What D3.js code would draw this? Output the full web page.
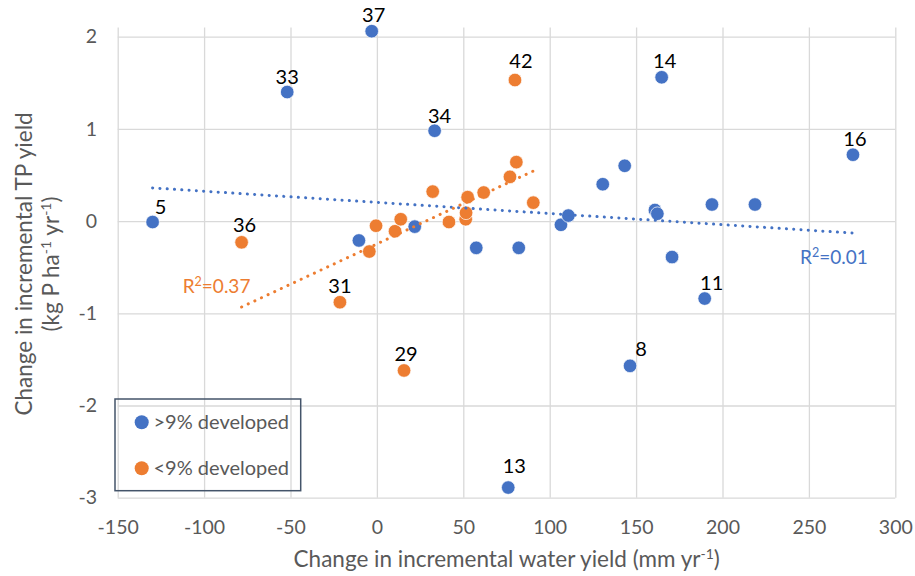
<!DOCTYPE html>
<html>
<head>
<meta charset="utf-8">
<script src="https://cdn.jsdelivr.net/npm/d3@7"></script>
<style>
  body { margin: 0; background: #fff; }
  text { font-family: Lato, "Open Sans", sans-serif; }
</style>
</head>
<body>
<div id="chart"></div>
<script>
// series: >9% developed (blue)
const devX = [-129.8, -51.9, -3.0, -10.4, 21.9, 33.4, 57.5, 82.1, 76.0, 106.5, 110.8,
              130.7, 143.4, 146.5, 160.9, 162.3, 164.8, 170.8, 189.7, 193.9, 218.8, 275.5];
const devY = [-0.01, 1.40, 2.06, -0.21, -0.06, 0.98, -0.29, -0.29, -2.89, -0.04, 0.06,
              0.40, 0.60, -1.57, 0.12, 0.08, 1.56, -0.39, -0.84, 0.18, 0.18, 0.72];
const devLab = ["5", "33", "37", "", "", "34", "", "", "13", "", "",
                "", "", "8", "", "", "14", "", "11", "", "", "16"];

// series: <9% developed (orange)
const undevX = [-78.3, -21.4, -4.4, -0.5, 10.5, 13.8, 15.7, 32.3, 41.7, 51.4, 51.6,
                52.5, 61.8, 77.0, 79.9, 80.7, 90.5];
const undevY = [-0.23, -0.88, -0.33, -0.05, -0.11, 0.02, -1.62, 0.32, -0.01, 0.02, 0.09,
                0.26, 0.31, 0.48, 1.53, 0.64, 0.20];
const undevLab = ["36", "31", "", "", "", "", "29", "", "", "", "",
                  "", "", "", "42", "", ""];

const xTicks = [-150, -100, -50, 0, 50, 100, 150, 200, 250, 300];
const yTicks = [-3, -2, -1, 0, 1, 2];
const r2Text = {dev: "0.01", undev: "0.37"};

// label nudges (px) so the point numbers sit where Excel put them
const nudge = {
  "37": [2, -9], "33": [0, -8.5], "34": [5, -8], "5": [8, -8.5], "36": [3, -10],
  "42": [6, -12], "14": [3, -9.5], "16": [2, -8.5], "11": [7, -9], "8": [11, -10],
  "13": [6, -14.5], "31": [0, -9.5], "29": [2, -9]
};

const width = 915, height = 576;
const blue = "#4472C4", orange = "#ED7D31", grid = "#D9D9D9", grey = "#595959";
const plain = d => String(d);  // Excel style: hyphen minus, no decimals

const svg = d3.select("#chart").append("svg")
    .attr("width", width).attr("height", height);

const x = d3.scaleLinear().domain([-150, 300]).range([117.7, 895.3]);
const y = d3.scaleLinear().domain([-3, 2.1]).range([497.7, 27.5]);

// gridlines
svg.append("g")
    .attr("transform", `translate(0,${y(-3)})`)
    .call(d3.axisBottom(x).tickValues(xTicks).tickSize(-(y(-3) - y(2.1))).tickFormat(""))
    .call(g => g.select(".domain").remove())
    .call(g => g.selectAll("line").attr("stroke", grid).attr("stroke-width", 1.3));
svg.append("g")
    .attr("transform", `translate(${x(-150)},0)`)
    .call(d3.axisLeft(y).tickValues(yTicks).tickSize(-(x(300) - x(-150))).tickFormat(""))
    .call(g => g.select(".domain").remove())
    .call(g => g.selectAll("line").attr("stroke", grid).attr("stroke-width", 1.3));

// tick labels
svg.append("g")
    .attr("transform", `translate(0,${y(-3)})`)
    .call(d3.axisBottom(x).tickValues(xTicks).tickFormat(plain).tickSize(0).tickPadding(22))
    .call(g => g.select(".domain").remove())
    .call(g => g.selectAll("text").attr("fill", grey).style("font-size", "19.5px")
        .style("font-family", "Lato"));
svg.append("g")
    .attr("transform", `translate(97,0)`)
    .call(d3.axisLeft(y).tickValues(yTicks).tickFormat(plain).tickSize(0).tickPadding(0))
    .call(g => g.select(".domain").remove())
    .call(g => g.selectAll("text").attr("fill", grey).style("font-size", "19.5px")
        .style("font-family", "Lato"));

// axis titles
const xt = svg.append("text")
    .attr("x", 506.7).attr("y", 567)
    .attr("text-anchor", "middle").attr("fill", grey).style("font-size", "22.5px");
xt.append("tspan").text("Change in incremental water yield (mm yr");
xt.append("tspan").attr("dy", -8).style("font-size", "14px").text("-1");
xt.append("tspan").attr("dy", 8).text(")");

const yt = svg.append("g").attr("transform", "translate(31.5,264) rotate(-90)");
yt.append("text").attr("text-anchor", "middle").attr("fill", grey)
    .style("font-size", "22.5px").text("Change in incremental TP yield");
const yt2 = yt.append("text").attr("y", 27.8).attr("text-anchor", "middle")
    .attr("fill", grey).style("font-size", "22.5px");
yt2.append("tspan").text("(kg P ha");
yt2.append("tspan").attr("dy", -8).style("font-size", "14px").text("-1");
yt2.append("tspan").attr("dy", 8).text(" yr");
yt2.append("tspan").attr("dy", -8).style("font-size", "14px").text("-1");
yt2.append("tspan").attr("dy", 8).text(")");

const dev = devX.map((v, i) => ({x: v, y: devY[i], lab: devLab[i]}));
const undev = undevX.map((v, i) => ({x: v, y: undevY[i], lab: undevLab[i]}));

// markers
[[dev, blue], [undev, orange]].forEach(([data, col]) => {
  svg.append("g").selectAll("circle").data(data).join("circle")
      .attr("cx", d => x(d.x)).attr("cy", d => y(d.y)).attr("r", 6.8)
      .attr("fill", col).attr("stroke", "#fff").attr("stroke-width", 0.7);
});

// linear trendlines (least squares, drawn across each series' x range)
function fit(data) {
  const mx = d3.mean(data, d => d.x), my = d3.mean(data, d => d.y);
  const sxy = d3.sum(data, d => (d.x - mx) * (d.y - my));
  const sxx = d3.sum(data, d => (d.x - mx) ** 2);
  const b = sxy / sxx, a = my - b * mx;
  const ext = d3.extent(data, d => d.x);
  return ext.map(v => [v, a + b * v]);
}
[[dev, blue], [undev, orange]].forEach(([data, col]) => {
  svg.append("path")
      .datum(fit(data))
      .attr("d", d3.line().x(d => x(d[0])).y(d => y(d[1])))
      .attr("fill", "none").attr("stroke", col).attr("stroke-width", 3)
      .attr("stroke-linecap", "round").attr("stroke-dasharray", "0.1 7.2");
});

// point numbers
svg.append("g").selectAll("text")
    .data(dev.concat(undev).filter(d => d.lab))
    .join("text")
    .attr("x", d => x(d.x) + nudge[d.lab][0])
    .attr("y", d => y(d.y) + nudge[d.lab][1])
    .attr("text-anchor", "middle").attr("fill", "#000").style("font-size", "20px")
    .text(d => d.lab);

// R² labels
function r2(xp, yp, col, val) {
  const t = svg.append("text").attr("x", xp).attr("y", yp).attr("fill", col)
      .style("font-size", "19px");
  t.append("tspan").text("R");
  t.append("tspan").attr("dy", -7).style("font-size", "12.5px").text("2");
  t.append("tspan").attr("dy", 7).text("=" + val);
}
r2(182.7, 292.5, orange, r2Text.undev);
r2(800, 264, blue, r2Text.dev);

// legend
svg.append("rect").attr("x", 115).attr("y", 399).attr("width", 185.7).attr("height", 91.7)
    .attr("fill", "none").attr("stroke", "#44546A").attr("stroke-width", 1.5);
const leg = [[">9% developed", blue], ["<9% developed", orange]];
leg.forEach(([name, col], i) => {
  svg.append("circle").attr("cx", 141.7).attr("cy", 422.3 + i * 46).attr("r", 7)
      .attr("fill", col);
  svg.append("text").attr("x", 153.5).attr("y", 428.5 + i * 46)
      .attr("fill", grey).style("font-size", "20px").text(name);
});
</script>
</body>
</html>
